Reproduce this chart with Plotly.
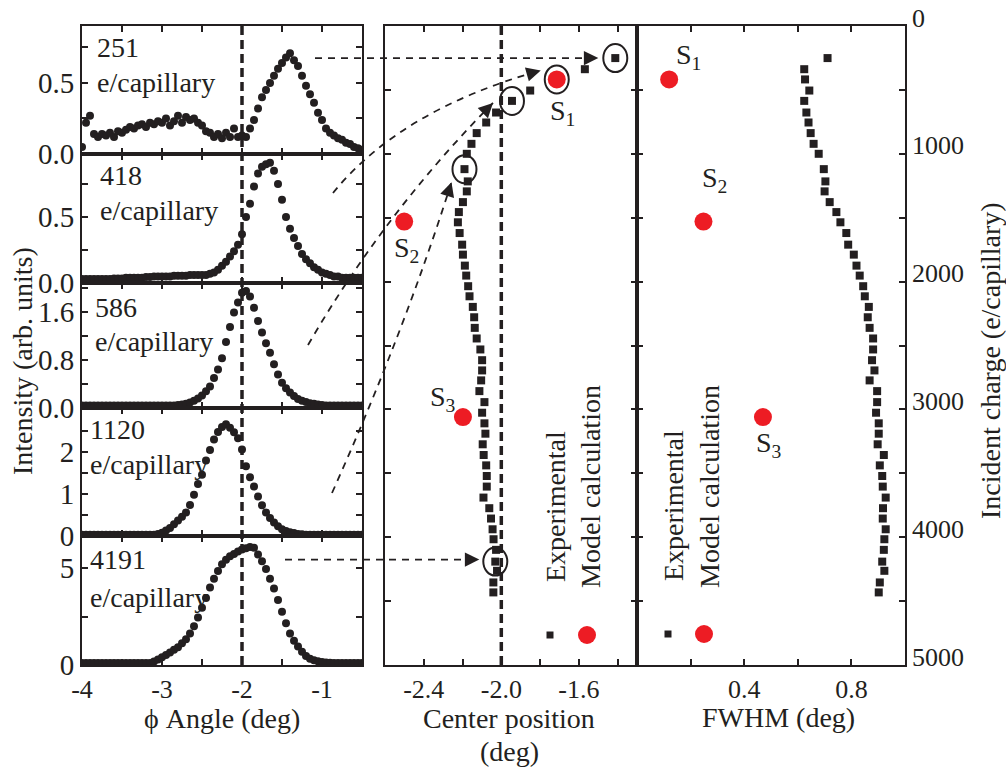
import plotly.graph_objects as go

# ---------------- data ----------------
angle = [-4.00, -3.95, -3.90, -3.85, -3.80, -3.75, -3.70, -3.65, -3.60, -3.55,
         -3.50, -3.45, -3.40, -3.35, -3.30, -3.25, -3.20, -3.15, -3.10, -3.05,
         -3.00, -2.95, -2.90, -2.85, -2.80, -2.75, -2.70, -2.65, -2.60, -2.55,
         -2.50, -2.45, -2.40, -2.35, -2.30, -2.25, -2.20, -2.15, -2.10, -2.05,
         -2.00, -1.95, -1.90, -1.85, -1.80, -1.75, -1.70, -1.65, -1.60, -1.55,
         -1.50, -1.45, -1.40, -1.35, -1.30, -1.25, -1.20, -1.15, -1.10, -1.05,
         -1.00, -0.95, -0.90, -0.85, -0.80, -0.75, -0.70, -0.65, -0.60, -0.55, -0.50]

int_251 = [0.05, 0.22, 0.27, 0.14, 0.12, 0.14, 0.13, 0.15, 0.12, 0.16,
           0.15, 0.17, 0.19, 0.18, 0.20, 0.21, 0.19, 0.22, 0.21, 0.23,
           0.22, 0.25, 0.20, 0.23, 0.27, 0.22, 0.26, 0.24, 0.25, 0.22,
           0.20, 0.16, 0.15, 0.12, 0.14, 0.11, 0.15, 0.12, 0.18, 0.12,
           0.13, 0.12, 0.18, 0.24, 0.32, 0.40, 0.45, 0.50, 0.55, 0.60,
           0.64, 0.68, 0.71, 0.66, 0.62, 0.55, 0.48, 0.42, 0.36, 0.29,
           0.24, 0.18, 0.15, 0.13, 0.11, 0.10, 0.08, 0.07, 0.05, 0.04, 0.03]

int_418 = [0.03, 0.03, 0.03, 0.03, 0.03, 0.03, 0.03, 0.03, 0.035, 0.035,
           0.035, 0.04, 0.04, 0.04, 0.04, 0.04, 0.045, 0.045, 0.05, 0.05,
           0.05, 0.05, 0.05, 0.055, 0.055, 0.055, 0.055, 0.06, 0.06, 0.06,
           0.06, 0.06, 0.07, 0.08, 0.10, 0.13, 0.16, 0.20, 0.24, 0.29,
           0.37, 0.50, 0.60, 0.73, 0.83, 0.88, 0.90, 0.91, 0.85, 0.75,
           0.63, 0.50, 0.41, 0.34, 0.28, 0.22, 0.18, 0.15, 0.12, 0.10,
           0.08, 0.07, 0.06, 0.05, 0.05, 0.04, 0.04, 0.04, 0.04, 0.04, 0.04]

int_586 = [0.04, 0.04, 0.04, 0.04, 0.04, 0.04, 0.04, 0.04, 0.04, 0.04,
           0.04, 0.04, 0.04, 0.04, 0.04, 0.04, 0.04, 0.04, 0.04, 0.04,
           0.04, 0.04, 0.04, 0.04, 0.05, 0.06, 0.07, 0.09, 0.12, 0.16,
           0.21, 0.28, 0.36, 0.50, 0.64, 0.83, 1.10, 1.35, 1.59, 1.76,
           1.92, 1.95, 1.86, 1.67, 1.45, 1.26, 1.08, 0.92, 0.73, 0.56,
           0.42, 0.33, 0.26, 0.20, 0.15, 0.12, 0.10, 0.08, 0.07, 0.06,
           0.05, 0.04, 0.04, 0.04, 0.04, 0.04, 0.04, 0.04, 0.04, 0.04, 0.04]

int_1120 = [0.03, 0.03, 0.03, 0.03, 0.03, 0.03, 0.03, 0.03, 0.03, 0.03,
            0.03, 0.03, 0.03, 0.03, 0.03, 0.03, 0.03, 0.03, 0.03, 0.05,
            0.08, 0.13, 0.19, 0.28, 0.37, 0.46, 0.56, 0.74, 0.98, 1.24,
            1.46, 1.80, 2.05, 2.30, 2.48, 2.60, 2.66, 2.58, 2.47, 2.33,
            2.06, 1.66, 1.40, 1.18, 0.94, 0.73, 0.56, 0.43, 0.32, 0.23,
            0.16, 0.12, 0.09, 0.07, 0.05, 0.04, 0.03, 0.03, 0.03, 0.03,
            0.03, 0.03, 0.03, 0.03, 0.03, 0.03, 0.03, 0.03, 0.03, 0.03, 0.03]

int_4191 = [0.10, 0.10, 0.10, 0.10, 0.10, 0.10, 0.10, 0.10, 0.10, 0.10,
            0.10, 0.10, 0.10, 0.10, 0.10, 0.10, 0.10, 0.10, 0.18, 0.28,
            0.40, 0.52, 0.65, 0.78, 0.92, 1.12, 1.33, 1.62, 2.00, 2.45,
            2.95, 3.45, 4.00, 4.45, 4.85, 5.20, 5.42, 5.60, 5.72, 5.85,
            5.95, 6.02, 6.08, 6.05, 5.70, 5.35, 4.95, 4.45, 3.95, 3.35,
            2.75, 2.15, 1.63, 1.25, 0.95, 0.68, 0.46, 0.32, 0.24, 0.19,
            0.16, 0.13, 0.11, 0.10, 0.10, 0.10, 0.10, 0.10, 0.10, 0.10, 0.10]

profile_labels = ["251", "418", "586", "1120", "4191"]

charge = [251, 338, 418, 505, 586, 677, 755, 838, 922, 1000,
          1120, 1216, 1294, 1378, 1456, 1536, 1620, 1711, 1789, 1875,
          1953, 2036, 2115, 2198, 2279, 2362, 2445, 2531, 2615, 2695,
          2773, 2857, 2943, 3026, 3109, 3190, 3273, 3357, 3438, 3521,
          3604, 3690, 3773, 3854, 3938, 4016, 4099, 4191, 4263, 4354, 4432]

center = [-1.412, -1.569, -1.714, -1.851, -1.945, -2.027, -2.078, -2.127, -2.154, -2.178,
          -2.190, -2.173, -2.178, -2.198, -2.219, -2.224, -2.215, -2.202, -2.198, -2.188,
          -2.181, -2.171, -2.164, -2.147, -2.140, -2.137, -2.127, -2.108, -2.099, -2.099,
          -2.104, -2.113, -2.087, -2.099, -2.087, -2.082, -2.096, -2.091, -2.078, -2.075,
          -2.075, -2.092, -2.062, -2.053, -2.045, -2.040, -2.027, -2.031, -2.022, -2.041, -2.041]

fwhm = [0.711, 0.624, 0.627, 0.643, 0.624, 0.632, 0.640, 0.648, 0.659, 0.678,
        0.697, 0.703, 0.700, 0.719, 0.744, 0.759, 0.781, 0.788, 0.809, 0.819,
        0.831, 0.844, 0.850, 0.865, 0.861, 0.868, 0.881, 0.881, 0.877, 0.886,
        0.868, 0.896, 0.896, 0.892, 0.902, 0.902, 0.898, 0.921, 0.906, 0.915,
        0.917, 0.928, 0.918, 0.917, 0.928, 0.923, 0.921, 0.915, 0.923, 0.906, 0.902]

model_charge = [418, 1530, 3060]
model_center = [-1.714, -2.501, -2.198]
model_fwhm = [0.120, 0.248, 0.470]
model_labels = ["1", "2", "3"]

highlight = [251, 418, 586, 1120, 4191]

charge_ticks = [0, 1000, 2000, 3000, 4000, 5000]

# ---------------- layout geometry ----------------
FONT = "Liberation Serif"
INK = "#231f20"
RED = "#ed1c24"
W, H = 1006, 768
L, R, T, B = 82, 905, 26, 665


def pp(px, py):
    return (px - L) / (R - L), (B - py) / (B - T)


left_dom = [0.0, pp(362, 0)[0]]
mid_dom = [pp(385, 0)[0], pp(637, 0)[0]]
right_dom = [pp(637, 0)[0], 1.0]
bounds = [26, 154, 283, 408, 536, 665]
left_ranges = [[0, 0.901], [0, 0.977], [0, 2.083], [0, 3.05], [0, 6.65]]
left_ytick = [
    ([0, 0.25, 0.5, 0.75], ["0.0", "", "0.5", ""]),
    ([0, 0.25, 0.5, 0.75], ["0.0", "", "0.5", ""]),
    ([0, 0.4, 0.8, 1.2, 1.6, 2.0], ["0.0", "", "0.8", "", "1.6", ""]),
    ([0, 0.5, 1, 1.5, 2, 2.5], ["0", "", "1", "", "2", ""]),
    ([0, 2.5, 5], ["0", "", "5"]),
]
MID_RANGE = [-2.6, -1.3]
Q_RANGE = [5000, 0]

common = dict(showline=True, linecolor=INK, linewidth=2, mirror="ticks",
              ticks="inside", ticklen=6, tickwidth=1.5, tickcolor=INK,
              showgrid=False, zeroline=False,
              tickfont=dict(family=FONT, size=26, color=INK))

fig = go.Figure()
layout = dict(width=W, height=H, margin=dict(l=L, r=W - R, t=T, b=H - B, pad=0),
              paper_bgcolor="white", plot_bgcolor="white", showlegend=False,
              font=dict(family=FONT, color=INK))

profiles = [int_251, int_418, int_586, int_1120, int_4191]
for i, vals in enumerate(profiles):
    n = "" if i == 0 else str(i + 1)
    fig.add_trace(go.Scatter(x=angle, y=vals, mode="markers",
                             marker=dict(size=8, color=INK),
                             xaxis="x" + n, yaxis="y" + n))
    ydom = [pp(0, bounds[i + 1])[1], pp(0, bounds[i])[1]]
    bottom = (i == 4)
    layout["xaxis" + n] = dict(common, domain=left_dom, anchor="y" + n, range=[-4, -0.5],
                               tickvals=[-4, -3.5, -3, -2.5, -2, -1.5, -1, -0.5],
                               ticktext=["-4", "", "-3", "", "-2", "", "-1", ""],
                               showticklabels=bottom, ticklabelstandoff=0)
    tv, tt = left_ytick[i]
    layout["yaxis" + n] = dict(common, domain=ydom, anchor="x" + n, range=left_ranges[i],
                               tickvals=tv, ticktext=tt,
                               tickfont=dict(family=FONT, size=29, color=INK),
                               ticklabelstandoff=0)

# middle panel
fig.add_trace(go.Scatter(x=center, y=charge, mode="markers",
                         marker=dict(symbol="square", size=8, color=INK),
                         xaxis="x6", yaxis="y6"))
fig.add_trace(go.Scatter(x=model_center, y=model_charge, mode="markers",
                         marker=dict(size=18, color=RED),
                         xaxis="x6", yaxis="y6"))
# right panel
fig.add_trace(go.Scatter(x=fwhm, y=charge, mode="markers",
                         marker=dict(symbol="square", size=8, color=INK),
                         xaxis="x7", yaxis="y7"))
fig.add_trace(go.Scatter(x=model_fwhm, y=model_charge, mode="markers",
                         marker=dict(size=18, color=RED),
                         xaxis="x7", yaxis="y7"))

layout["xaxis6"] = dict(common, domain=mid_dom, anchor="y6", range=MID_RANGE,
                        tickvals=[-2.4, -2.2, -2.0, -1.8, -1.6, -1.4],
                        ticktext=["-2.4", "", "-2.0", "", "-1.6", ""],
                        ticklabelstandoff=0)
layout["yaxis6"] = dict(common, domain=[0, 1], anchor="x6", range=Q_RANGE,
                        tickvals=list(range(0, 5001, 500)), showticklabels=False)
layout["xaxis7"] = dict(common, domain=right_dom, anchor="y7", range=[0, 1.0],
                        tickvals=[0.2, 0.4, 0.6, 0.8], ticktext=["", "0.4", "", "0.8"],
                        ticklabelstandoff=0)
layout["yaxis7"] = dict(common, domain=[0, 1], anchor="x7", range=Q_RANGE, side="right",
                        tickvals=list(range(0, 5001, 500)), showticklabels=False)

shapes = []
annotations = []

# right-hand charge labels (drawn slightly above their ticks, as in the original)
for v in charge_ticks:
    annotations.append(dict(xref="paper", yref="y7", x=1.0, y=v, text=str(v),
                            xanchor="left", yanchor="middle", xshift=5, yshift=8,
                            showarrow=False, font=dict(family=FONT, size=26, color=INK)))

# vertical reference dashed lines at -2
shapes.append(dict(type="line", xref="x5", yref="paper", x0=-2, x1=-2, y0=0, y1=1,
                   line=dict(color=INK, width=3.5, dash="9px,5px"), layer="above"))
shapes.append(dict(type="line", xref="x6", yref="paper", x0=-2, x1=-2, y0=0, y1=1,
                   line=dict(color=INK, width=3.5, dash="9px,5px"), layer="above"))


def mid_px(c, q):
    px = 385 + (c - MID_RANGE[0]) / (MID_RANGE[1] - MID_RANGE[0]) * (637 - 385)
    py = T + q / 5000 * (B - T)
    return px, py


# circles around highlighted experimental points
for hq in highlight:
    k = charge.index(hq)
    shapes.append(dict(type="circle", xref="x6", yref="y6", xsizemode="pixel", ysizemode="pixel",
                       xanchor=center[k], yanchor=charge[k], x0=-12, x1=12, y0=-14, y1=14,
                       line=dict(color=INK, width=2)))

# dashed arrows from spectra to centres
arrow_specs = [
    (251, (315, None), None, (-17, 0)),
    (418, (333, 193), (400, 110), (-16, -9)),
    (586, (308, 345), (385, 212), (-19, 2)),
    (1120, (332, 493), (405, 330), (-13, 13)),
    (4191, (285, None), None, (-16, -2)),
]
for hq, start, ctrl, off in arrow_specs:
    k = charge.index(hq)
    cx, cy = mid_px(center[k], charge[k])
    tx, ty = cx + off[0], cy + off[1]
    sx, sy = start[0], (start[1] if start[1] is not None else ty)
    p0 = pp(sx, sy)
    p2 = pp(tx, ty)
    if ctrl is None:
        path = f"M {p0[0]:.5f},{p0[1]:.5f} L {p2[0]:.5f},{p2[1]:.5f}"
        dx, dy = tx - sx, ty - sy
    else:
        p1 = pp(*ctrl)
        path = f"M {p0[0]:.5f},{p0[1]:.5f} Q {p1[0]:.5f},{p1[1]:.5f} {p2[0]:.5f},{p2[1]:.5f}"
        dx, dy = tx - ctrl[0], ty - ctrl[1]
    nrm = (dx * dx + dy * dy) ** 0.5
    shapes.append(dict(type="path", xref="paper", yref="paper", path=path,
                       line=dict(color=INK, width=1.8, dash="7px,6px")))
    annotations.append(dict(xref="paper", yref="paper", x=p2[0], y=p2[1], text="",
                            showarrow=True, arrowhead=2, arrowsize=1.6, arrowwidth=1.8,
                            arrowcolor=INK, ax=-dx / nrm * 12, ay=-dy / nrm * 12, standoff=0))

# spectrum labels
label_pos = [(95, 47, 82), (98, 176, 211), (93, 307, 341), (88, 429, 464), (88, 559, 597)]
for lab, (lx, y1, y2) in zip(profile_labels, label_pos):
    for txt, yy in ((lab, y1), ("e/capillary", y2)):
        x, y = pp(lx, yy)
        annotations.append(dict(xref="paper", yref="paper", x=x, y=y, text=txt,
                                showarrow=False, xanchor="left", yanchor="middle",
                                font=dict(family=FONT, size=28, color=INK)))

# model point labels S1..S3
mid_off = [(6, 33), (2, 28), (-20, -19)]
right_off = [(19, -23), (11, -42), (6, 27)]
for j in range(3):
    annotations.append(dict(xref="x6", yref="y6", x=model_center[j], y=model_charge[j],
                            text="S<sub>" + model_labels[j] + "</sub>", showarrow=False,
                            xanchor="center", yanchor="middle",
                            xshift=mid_off[j][0], yshift=-mid_off[j][1],
                            font=dict(family=FONT, size=28, color=INK)))
    annotations.append(dict(xref="x7", yref="y7", x=model_fwhm[j], y=model_charge[j],
                            text="S<sub>" + model_labels[j] + "</sub>", showarrow=False,
                            xanchor="center", yanchor="middle",
                            xshift=right_off[j][0], yshift=-right_off[j][1],
                            font=dict(family=FONT, size=28, color=INK)))

# legend (rotated text + key symbols)
for txt, lx, ly in (("Experimental", 555, 507), ("Model calculation", 590, 487),
                    ("Experimental", 673, 506), ("Model calculation", 709, 487)):
    x, y = pp(lx, ly)
    annotations.append(dict(xref="paper", yref="paper", x=x, y=y, text=txt, textangle=-90,
                            xanchor="center", yanchor="middle",
                            showarrow=False, font=dict(family=FONT, size=28, color=INK)))
for sx, sy in ((550, 635), (668, 634)):
    a = pp(sx - 3.5, sy + 3.5)
    b = pp(sx + 3.5, sy - 3.5)
    shapes.append(dict(type="rect", xref="paper", yref="paper", x0=a[0], y0=a[1], x1=b[0], y1=b[1],
                       fillcolor=INK, line=dict(width=0)))
for sx, sy in ((587, 635), (704, 634)):
    a = pp(sx - 9, sy + 9)
    b = pp(sx + 9, sy - 9)
    shapes.append(dict(type="circle", xref="paper", yref="paper", x0=a[0], y0=a[1], x1=b[0], y1=b[1],
                       fillcolor=RED, line=dict(width=0)))

# axis titles
titles = [("Intensity (arb. units)", 22, 361, -90), ("Incident charge (e/capillary)", 990, 361, -90),
          ("\u03d5 Angle (deg)", 222, 718, 0), ("Center position", 509, 718, 0),
          ("(deg)", 509, 751, 0), ("FWHM (deg)", 778, 717, 0)]
for txt, tx, ty, ang in titles:
    x, y = pp(tx, ty)
    annotations.append(dict(xref="paper", yref="paper", x=x, y=y, text=txt, textangle=ang,
                            xanchor="center", yanchor="middle",
                            showarrow=False, font=dict(family=FONT, size=28, color=INK)))

layout["shapes"] = shapes
layout["annotations"] = annotations
fig.update_layout(**layout)
fig.write_html("out.html")
